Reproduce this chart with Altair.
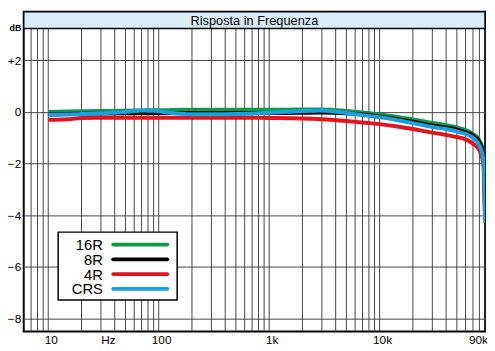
import altair as alt
import pandas as pd

# ---- data ----
freqs = [10, 15, 20, 30, 50, 70, 90, 120, 150, 200, 300, 500, 700, 1000, 1500, 2000,
         3000, 5000, 7000, 10000, 15000, 20000, 30000, 40000, 50000, 60000, 70000,
         80000, 85000, 88000, 90000]
r16 = [0.0, 0.02, 0.03, 0.04, 0.05, 0.06, 0.07, 0.07, 0.08, 0.09, 0.09, 0.09, 0.09, 0.09,
       0.09, 0.1, 0.1, 0.04, -0.02, -0.1, -0.2, -0.29, -0.42, -0.51, -0.6, -0.7, -0.85,
       -1.1, -1.4, -2.0, -3.9]
r8 = [-0.1, -0.08, -0.07, -0.06, -0.05, -0.04, -0.04, -0.04, -0.04, -0.04, -0.04, -0.04,
      -0.04, -0.04, -0.04, -0.03, -0.02, -0.05, -0.1, -0.18, -0.29, -0.38, -0.52, -0.6,
      -0.68, -0.78, -0.91, -1.17, -1.45, -2.1, -4.0]
r4 = [-0.3, -0.28, -0.23, -0.22, -0.22, -0.22, -0.22, -0.22, -0.22, -0.22, -0.22, -0.22,
      -0.22, -0.23, -0.24, -0.25, -0.28, -0.35, -0.41, -0.47, -0.57, -0.66, -0.8, -0.89,
      -0.97, -1.06, -1.23, -1.49, -1.8, -2.4, -4.1]
crs = [-0.12, -0.1, -0.08, -0.05, 0.0, 0.06, 0.05, -0.02, -0.06, -0.09, -0.09, -0.08,
       -0.06, -0.03, 0.01, 0.04, 0.06, -0.04, -0.12, -0.2, -0.33, -0.43, -0.58, -0.66,
       -0.75, -0.85, -1.0, -1.3, -1.6, -2.2, -4.3]

series_names = ["16R", "8R", "4R", "CRS"]
series_values = [r16, r8, r4, crs]
series_colors = ["#0a9a48", "#000000", "#e3141e", "#1a9fe0"]

x_tick_values = [10, 33, 100, 1000, 10000, 90000]
x_tick_labels = ["10", "Hz", "100", "1k", "10k", "90k"]
y_tick_values = [-8, -6, -4, -2, 0, 2]
grid_freqs = [m * 10 ** e for e in range(0, 5) for m in range(1, 10)]
grid_freqs = [g for g in grid_freqs if 7 <= g <= 90000]

title_text = "Risposta in Frequenza"

W, H = 469, 325
FONT = "Liberation Sans"
GRID = "#444444"

xscale = alt.Scale(type="log", domain=[6, 90000], nice=False)
yscale = alt.Scale(domain=[-8.5, 3.88], nice=False, zero=False)

label_expr = " : ".join(
    f"datum.value == {v} ? '{l}'" for v, l in zip(x_tick_values, x_tick_labels)
) + " : ''"

x_axis = alt.Axis(values=x_tick_values, labelExpr=label_expr, grid=False, ticks=False,
                  domain=False, title=None, labelFontSize=12, labelFont=FONT,
                  labelColor="black", labelPadding=3, labelOffset=2.5,
                  labelAlign={"condition": {"test": "datum.value >= 90000", "value": "right"},
                              "value": "center"},
                  labelOverlap=False, labelFlush=False)
y_axis = alt.Axis(values=y_tick_values,
                  labelExpr="datum.value > 0 ? '+' + datum.label : datum.label",
                  grid=True, gridColor=GRID, gridWidth=1, gridOpacity=1,
                  ticks=False, domain=False, labelFontSize=12, labelFont=FONT,
                  labelColor="black", labelPadding=3,
                  title="dB", titleAngle=0, titleX=-9, titleY=16, titleFontSize=9,
                  titleFontWeight="bold", titleFont=FONT, titleAlign="center",
                  titleBaseline="middle", titleColor="black")

grid_df = pd.DataFrame({"f": grid_freqs})
grid = alt.Chart(grid_df).mark_rule(color=GRID, strokeWidth=1).encode(
    x=alt.X("f:Q", scale=xscale, axis=x_axis)
)

one = pd.DataFrame({"k": [0]})
title_bar = alt.Chart(one).mark_rect(fill="#d9ecf8", stroke="black", strokeWidth=1.5).encode(
    x=alt.value(0), x2=alt.value(W), y=alt.value(0), y2=alt.value(17)
)
title_txt = alt.Chart(one).mark_text(text=title_text, fontSize=13, font=FONT,
                                      color="black", align="center", baseline="middle").encode(
    x=alt.value(W / 2), y=alt.value(9)
)

layers = [grid, title_bar, title_txt]
for name, vals, col in zip(series_names, series_values, series_colors):
    df = pd.DataFrame({"f": freqs, "db": vals})
    layers.append(
        alt.Chart(df).mark_line(color=col, strokeWidth=4, interpolate="monotone", clip=True).encode(
            x=alt.X("f:Q", scale=xscale, axis=x_axis),
            y=alt.Y("db:Q", scale=yscale, axis=y_axis),
        )
    )

# legend box
layers.append(
    alt.Chart(one).mark_rect(fill="white", stroke="black", strokeWidth=1.5).encode(
        x=alt.value(35), x2=alt.value(156), y=alt.value(224), y2=alt.value(293)
    )
)
for i, (name, col) in enumerate(zip(series_names, series_colors)):
    ry = 236.7 + 15 * i
    layers.append(
        alt.Chart(one).mark_text(text=name, fontSize=15, font=FONT, color="black",
                                 align="right", baseline="middle").encode(
            x=alt.value(80.5), y=alt.value(ry + 0.5)
        )
    )
    layers.append(
        alt.Chart(one).mark_rule(color=col, strokeWidth=4, strokeCap="round").encode(
            x=alt.value(91), x2=alt.value(146), y=alt.value(ry)
        )
    )

chart = alt.layer(*layers).properties(
    width=W, height=H,
    autosize=alt.AutoSizeParams(type="none"),
    padding={"left": 16, "top": 1, "right": 2, "bottom": 17},
    background="white",
).configure_view(stroke="black", strokeWidth=2)

chart.save("out.html", embed_options={"renderer": "svg", "actions": False})
